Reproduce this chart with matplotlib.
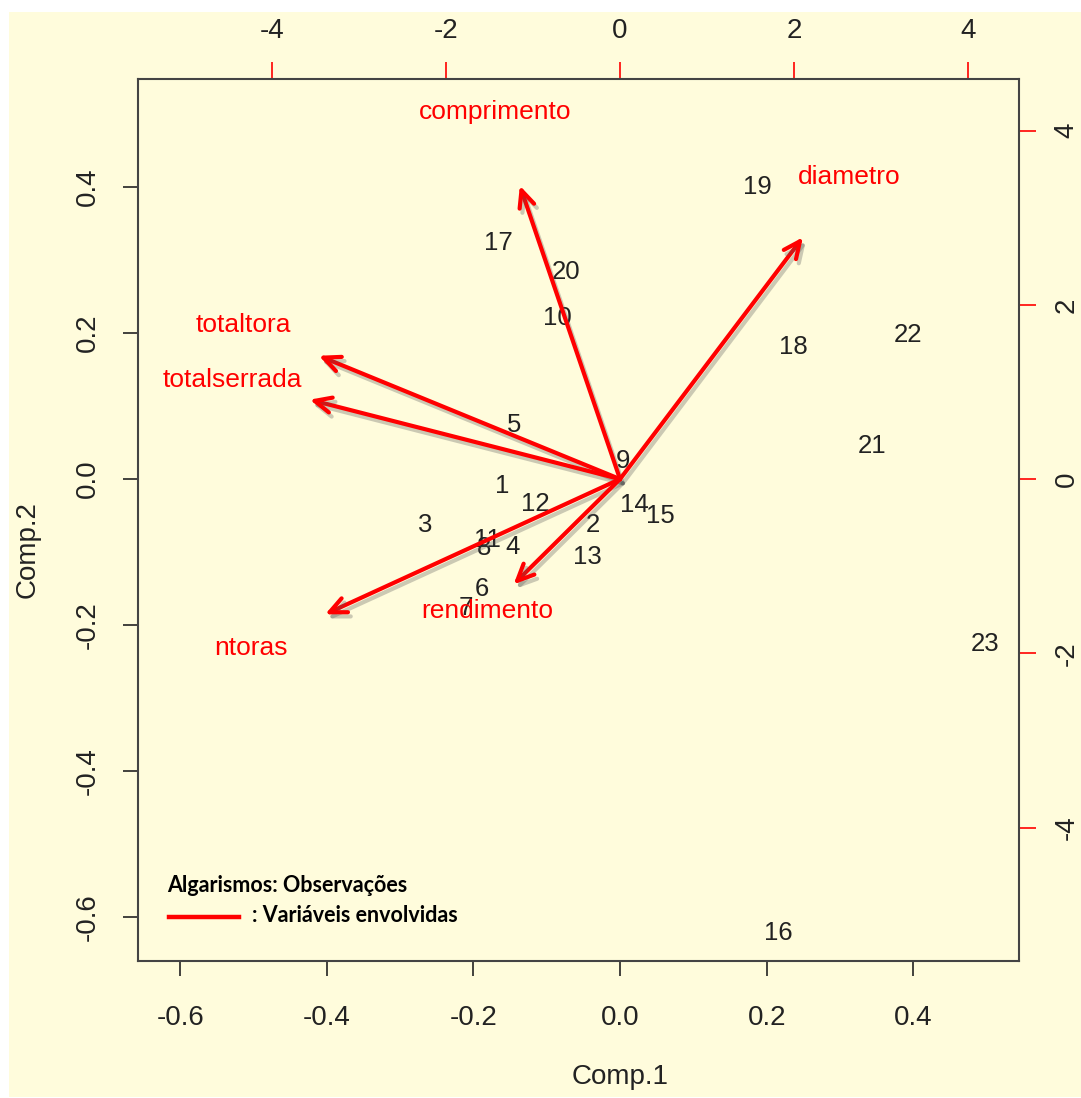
import matplotlib.pyplot as plt
import matplotlib.patheffects as pe
from matplotlib.patches import Rectangle
import numpy as np

# observation scores (bottom / left axes)
obs_labels = [str(i) for i in range(1, 24)]
comp1 = [-0.161, -0.037, -0.266, -0.147, -0.145, -0.188, -0.211, -0.185, 0.004, -0.086,
         -0.181, -0.116, -0.044, 0.019, 0.055, 0.216, -0.166, 0.236, 0.188, -0.074,
         0.344, 0.393, 0.498]
comp2 = [-0.010, -0.063, -0.063, -0.093, 0.074, -0.151, -0.176, -0.094, 0.025, 0.221,
         -0.083, -0.034, -0.106, -0.035, -0.050, -0.621, 0.323, 0.181, 0.400, 0.284,
         0.046, 0.197, -0.226]

# variable loadings (top / right axes)
var_names = ["comprimento", "diametro", "totaltora", "totalserrada", "ntoras", "rendimento"]
load1 = [-1.44, 2.63, -4.33, -4.46, -4.24, -1.53]
load2 = [4.21, 3.47, 1.77, 1.14, -1.94, -1.51]

bottom_ticks = [-0.6, -0.4, -0.2, 0.0, 0.2, 0.4]
top_ticks = [-4, -2, 0, 2, 4]

fx, fy = 8.43, 8.38   # loadings scale vs. scores scale

W, H = 1081, 1098
fig = plt.figure(figsize=(W / 100, H / 100), dpi=100)
fig.patch.set_facecolor("white")
fig.patches.append(Rectangle((9 / W, 1 / H), 1 - 9 / W, 1 - 13 / H, transform=fig.transFigure,
                             facecolor="#fffcdc", edgecolor="none", zorder=-10))

ax = fig.add_axes([138 / W, 1 - 961 / H, (1019 - 138) / W, (961 - 79) / H])
ax.set_facecolor("#fffcdc")
ax.set_xlim(-0.6576, 0.5443)
ax.set_ylim(-0.660, 0.548)
for s in ax.spines.values():
    s.set_color("#444444")
    s.set_linewidth(1.5)

font = "Liberation Sans"
fs = 20

ax.set_xticks(bottom_ticks)
ax.set_xticklabels([f"{t:.1f}" for t in bottom_ticks], fontsize=fs, family=font, color="#222222")
ax.set_yticks(bottom_ticks)
ax.set_yticklabels([f"{t:.1f}" for t in bottom_ticks], fontsize=fs, family=font, color="#222222",
                   rotation=90, va="center")
ax.tick_params(axis="x", length=11, width=1.2, pad=21, color="#222222")
ax.tick_params(axis="y", length=11, width=1.2, pad=16, color="#222222")

sx = ax.secondary_xaxis("top", functions=(lambda x: x * fx, lambda x: x / fx))
sx.set_xticks(top_ticks)
sx.set_xticklabels([str(t) for t in top_ticks], fontsize=fs, family=font, color="#222222")
sx.tick_params(length=12, width=1.2, pad=13, color="red")
sy = ax.secondary_yaxis("right", functions=(lambda y: y * fy, lambda y: y / fy))
sy.set_yticks(top_ticks)
sy.set_yticklabels([str(t) for t in top_ticks], fontsize=fs, family=font, color="#222222",
                   rotation=90, va="center")
sy.tick_params(length=12, width=1.2, pad=13, color="red")
for s in list(sx.spines.values()) + list(sy.spines.values()):
    s.set_visible(False)

# observations
for lab, x, y in zip(obs_labels, comp1, comp2):
    ax.text(x, y, lab, fontsize=18.5, family=font, color="#222222", ha="center", va="center", zorder=3)

# variable arrows
shadow = [pe.SimpleLineShadow(offset=(2, -3), shadow_color="#555555", alpha=0.3), pe.Normal()]
for name, a, b in zip(var_names, load1, load2):
    tx, ty = 0.8 * a / fx, 0.8 * b / fy
    ax.annotate("", xy=(tx, ty), xytext=(0, 0),
                arrowprops=dict(arrowstyle="->,head_length=1.2,head_width=0.55", color="red",
                                lw=3, shrinkA=0, shrinkB=0, path_effects=shadow), zorder=4)
    ax.text(a / fx, b / fy, name, fontsize=19, family=font, color="red", ha="center", va="center", zorder=5)

# legend
fig.text(167 / W, 1 - 886 / H, "Algarismos: Observações", fontsize=15.5, family="Lato",
         weight="bold", color="black", va="center", ha="left")
fig.lines.append(plt.Line2D([169 / W, 239 / W], [1 - 917 / H, 1 - 917 / H], transform=fig.transFigure,
                            color="red", lw=3.2))
fig.text(252 / W, 1 - 915 / H, ": Variáveis envolvidas", fontsize=15.5, family="Lato",
         weight="bold", color="black", va="center", ha="left")

# axis titles
fig.text(620 / W, 1 - 1077 / H, "Comp.1", fontsize=fs, family=font, color="#222222", ha="center", va="center")
fig.text(28 / W, 1 - 550 / H, "Comp.2", fontsize=fs, family=font, color="#222222", ha="center", va="center",
         rotation=90)

fig.savefig("out.png", dpi=100, facecolor=fig.get_facecolor())
